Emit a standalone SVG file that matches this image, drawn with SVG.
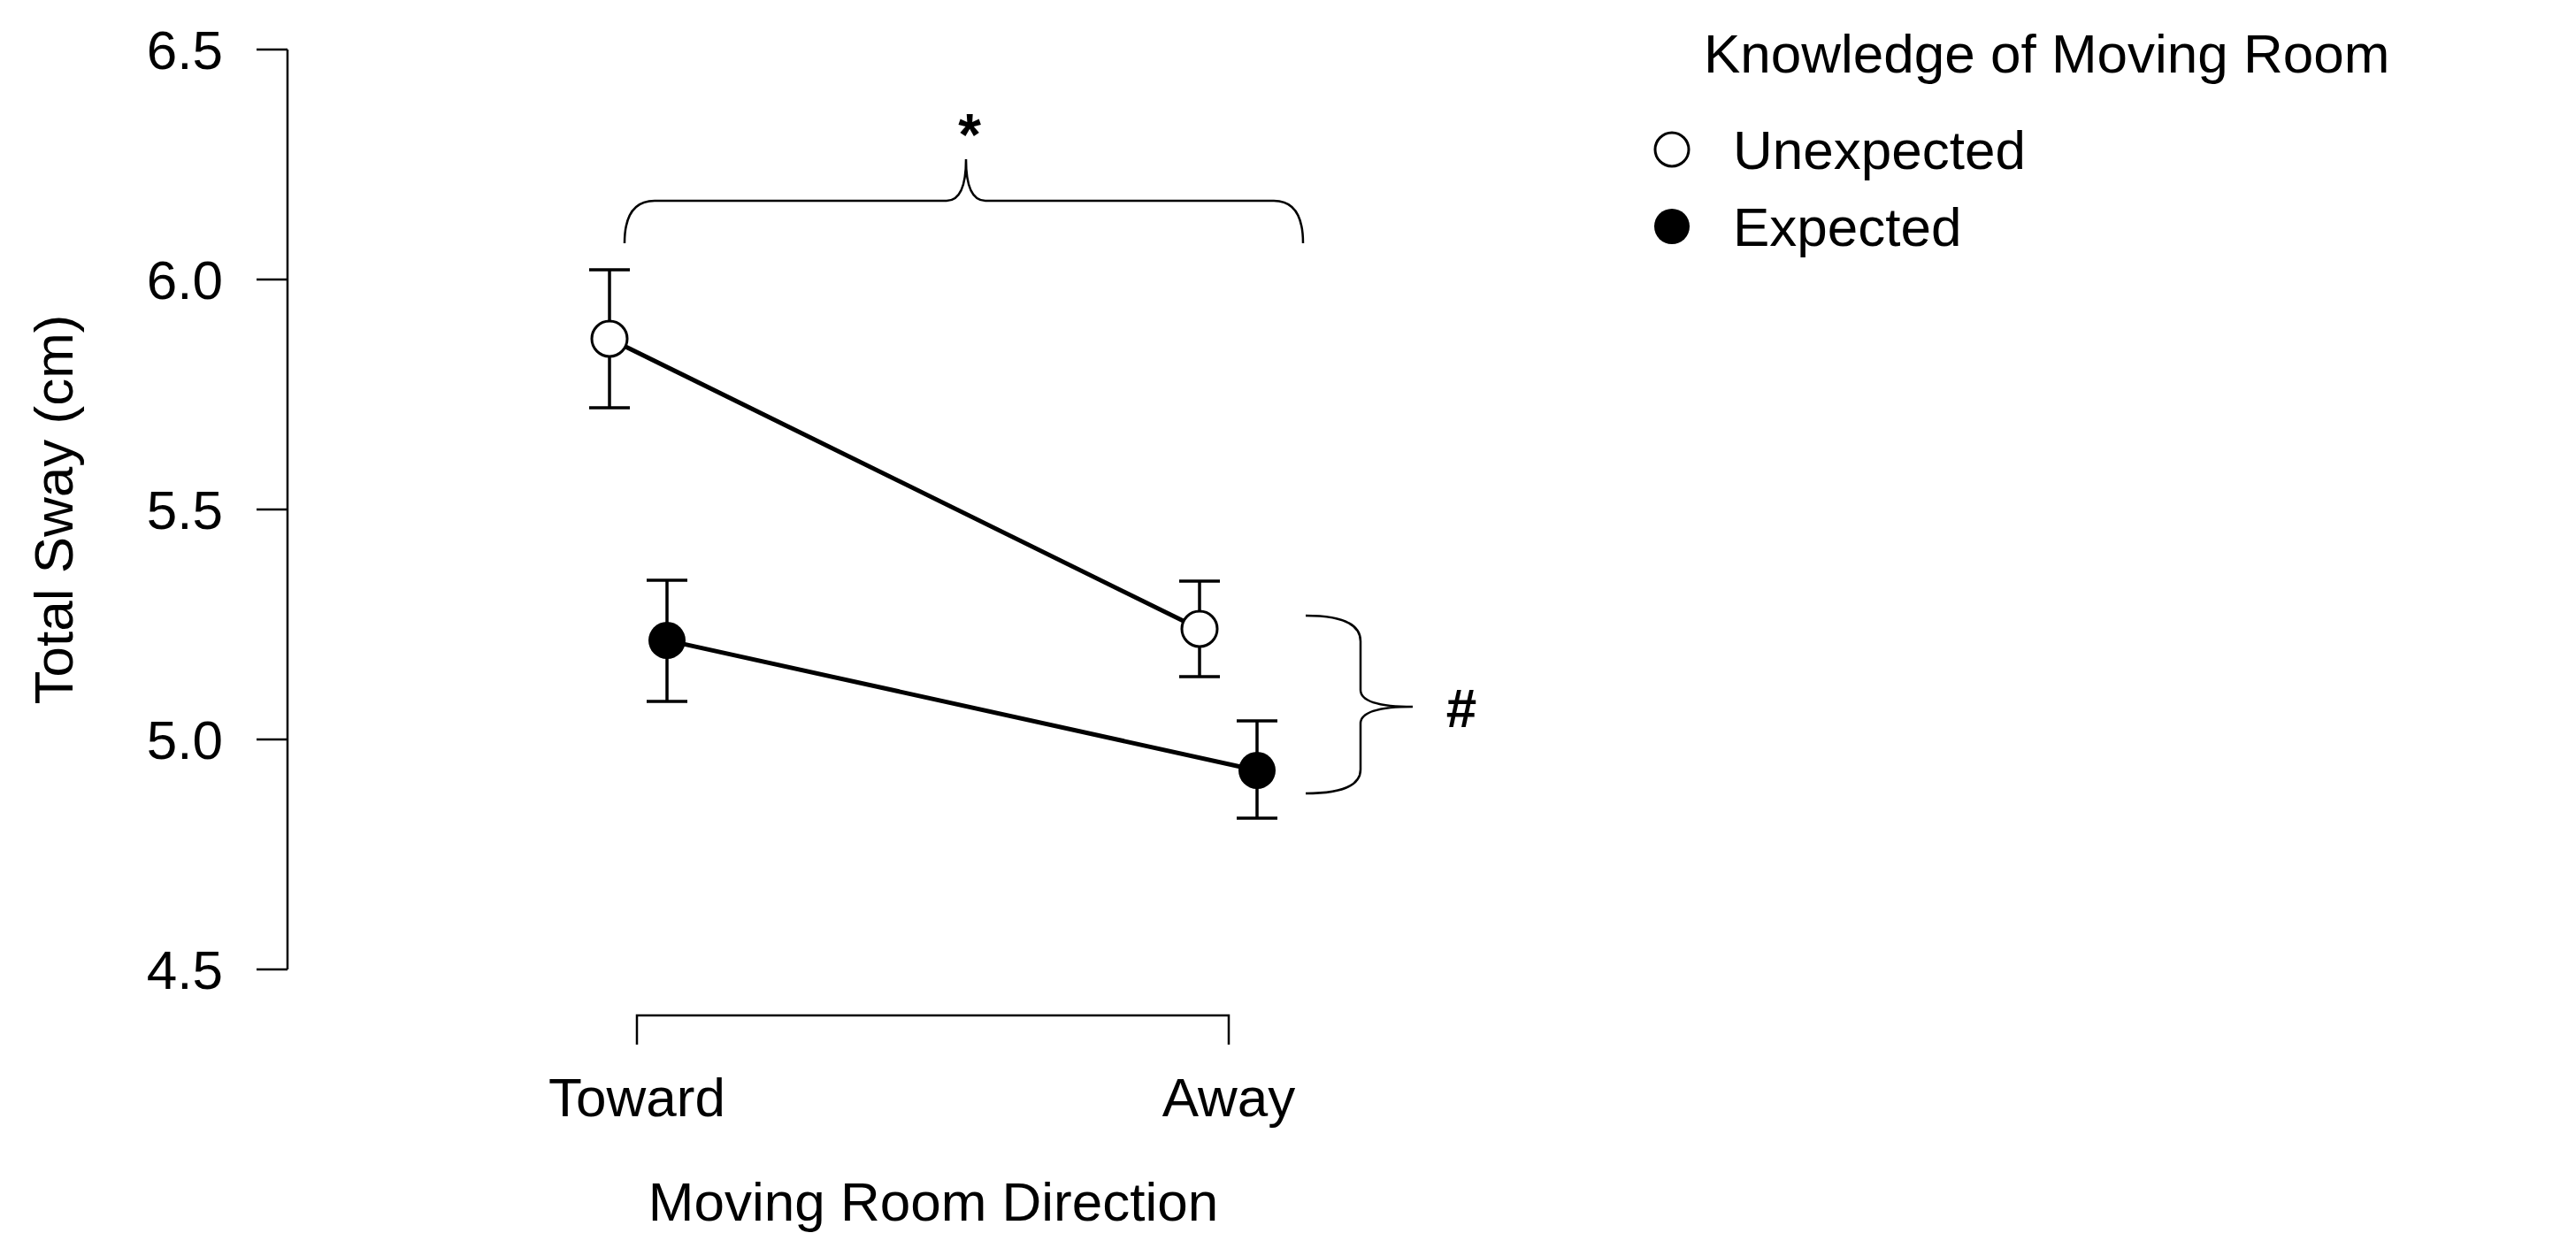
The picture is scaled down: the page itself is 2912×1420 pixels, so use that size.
<svg xmlns="http://www.w3.org/2000/svg" width="2912" height="1420" viewBox="0 0 2912 1420">
<style>
text{font-family:"Liberation Sans",Arial,sans-serif;font-size:62px;fill:#000}
.ax{stroke:#000;stroke-width:2.5;fill:none}
.ln{stroke:#000;stroke-width:5;fill:none}
.eb{stroke:#000;stroke-width:3.5;fill:none}
.br{stroke:#000;stroke-width:2.5;fill:none}
</style>
<rect width="2912" height="1420" fill="#fff"/>
<g id="yaxis">
<path class="ax" d="M325 56V1096M290 56H325M290 316H325M290 576H325M290 836H325M290 1096H325"/>
<g text-anchor="end">
<text x="252" y="78">6.5</text><text x="252" y="338">6.0</text><text x="252" y="598">5.5</text><text x="252" y="858">5.0</text><text x="252" y="1118">4.5</text>
</g>
<text transform="translate(82 576) rotate(-90)" text-anchor="middle">Total Sway (cm)</text>
</g>
<g id="xaxis">
<path class="ax" d="M720 1181V1148H1389V1181"/>
<text x="720" y="1262" text-anchor="middle">Toward</text>
<text x="1389" y="1262" text-anchor="middle">Away</text>
<text x="1055" y="1380" text-anchor="middle">Moving Room Direction</text>
</g>
<g id="connectors">
<path class="ln" d="M689 383L1356 711"/>
<path class="ln" d="M754 724L1421 871"/>
<path class="eb" d="M689 305V461M666 305H712M666 461H712"/>
<path class="eb" d="M1356 657V765M1333 657H1379M1333 765H1379"/>
<path class="eb" d="M754 656V793M731 656H777M731 793H777"/>
<path class="eb" d="M1421 815V925M1398 815H1444M1398 925H1444"/>
</g>
<g id="points">
<circle cx="689" cy="383" r="20" fill="#fff" stroke="#000" stroke-width="3"/>
<circle cx="1356" cy="711" r="20" fill="#fff" stroke="#000" stroke-width="3"/>
<circle cx="754" cy="724" r="21" fill="#000"/>
<circle cx="1421" cy="871" r="21" fill="#000"/>
</g>
<g id="brace-top">
<path class="br" d="M706 275Q706 227 740 227H1070Q1092 227 1092 180Q1092 227 1114 227H1440Q1473 227 1473 275"/>
<text x="1096" y="175" text-anchor="middle" font-weight="bold" style="font-size:66px">*</text>
</g>
<g id="brace-right">
<path class="br" d="M1476 696Q1538 696 1538 725V780Q1538 799 1597 799Q1538 799 1538 818V870Q1538 897 1476 897"/>
<text x="1652" y="822" text-anchor="middle" font-weight="bold" style="font-size:62px">#</text>
</g>
<g id="legend">
<text x="1926" y="82">Knowledge of Moving Room</text>
<circle cx="1890" cy="169" r="19" fill="#fff" stroke="#000" stroke-width="3"/>
<text x="1959" y="191">Unexpected</text>
<circle cx="1890" cy="256" r="20" fill="#000"/>
<text x="1959" y="278">Expected</text>
</g>
</svg>
